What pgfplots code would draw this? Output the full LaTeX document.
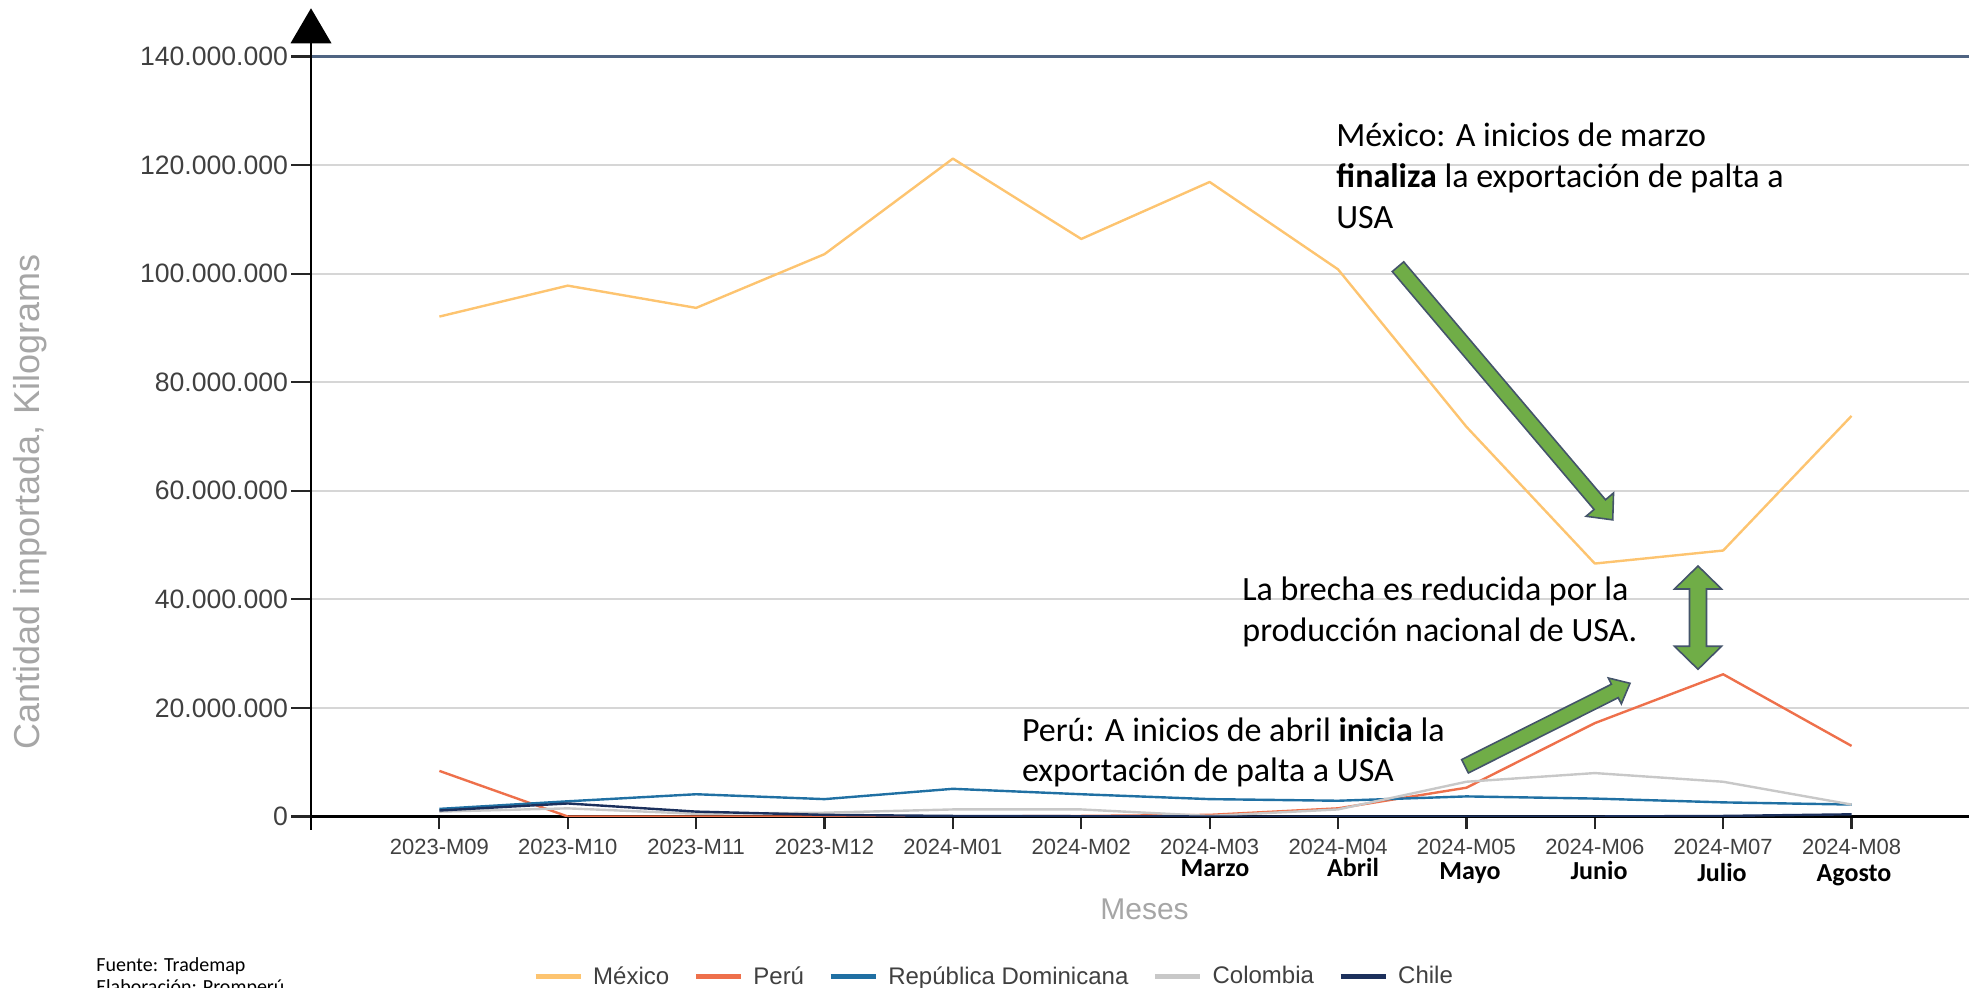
\documentclass[border=0pt]{standalone}
\usepackage{fontspec}
\setmainfont{Liberation Sans}
\newfontfamily\calibri{Carlito}
\usepackage{pgfplots}
\usepackage{pgfplotstable}
\pgfplotsset{compat=1.18}
\definecolor{mex}{RGB}{253,196,112}
\definecolor{per}{RGB}{238,112,75}
\definecolor{rdo}{RGB}{32,112,163}
\definecolor{col}{RGB}{200,200,200}
\definecolor{chi}{RGB}{28,48,92}
\definecolor{tickc}{RGB}{64,64,64}
\definecolor{lab}{RGB}{166,166,166}
\definecolor{gridc}{RGB}{214,214,214}
\definecolor{topl}{RGB}{79,100,130}
\definecolor{arrf}{RGB}{112,173,71}
\definecolor{arrd}{RGB}{68,84,106}

% values in millions of kilograms
\pgfplotstableread{
i  mex   per  rdo  col  chi
0  92.1  8.4  1.4  0.9  1.1
1  97.8  0.0  2.8  1.5  2.4
2  93.7  0.0  4.1  0.5  0.9
3  103.6 0.0  3.2  0.7  0.3
4  121.2 0.0  5.1  1.3  0.1
5  106.4 0.1  4.1  1.3  0.05
6  116.9 0.3  3.2  0.1  0.0
7  100.8 1.5  2.9  1.3  0.0
8  71.8  5.3  3.7  6.4  0.0
9  46.6  17.2 3.3  8.0  0.0
10 49.0  26.2 2.6  6.4  0.1
11 73.8  13.0 2.2  2.2  0.4
}\datatable

\begin{document}
\begin{tikzpicture}
\useasboundingbox (0,0) rectangle (984.5pt,494pt);
\clip (0,0) rectangle (984.5pt,494pt);
\begin{axis}[
  at={(155.5pt,85.75pt)}, anchor=south west, scale only axis,
  width=829pt, height=379.95pt,
  xmin=-1, xmax=11.915, ymin=0, ymax=140,
  axis x line*=bottom, axis y line*=left,
  axis line style={black, line width=1.2pt},
  xtick={0,...,11},
  xticklabels={2023-M09,2023-M10,2023-M11,2023-M12,2024-M01,2024-M02,2024-M03,2024-M04,2024-M05,2024-M06,2024-M07,2024-M08},
  ytick={0,20,...,140},
  yticklabels={0,20.000.000,40.000.000,60.000.000,80.000.000,100.000.000,120.000.000,140.000.000},
  tick align=outside,
  major tick length=8pt,
  xtick style={/pgfplots/major tick length=6.5pt, black!85, line width=1.1pt},
  ytick style={/pgfplots/major tick length=10pt, black!85, line width=1.1pt},
  ymajorgrids, grid style={gridc, line width=0.9pt},
  x tick label style={font=\fontsize{11}{13}\selectfont, text=tickc},
  y tick label style={font=\fontsize{13.3}{15}\selectfont, text=tickc},
  legend columns=5,
  legend style={at={(0.4113,-0.2108)}, anchor=center, draw=none, fill=none,
    font=\fontsize{12}{14}\selectfont, text=tickc,
    nodes={inner sep=0pt, text=tickc},
    /tikz/every odd column/.append style={column sep=5pt},
    /tikz/every even column/.append style={column sep=12pt}},
  legend image code/.code={\draw[#1, line width=2.6pt] (0pt,0pt) -- (22.5pt,0pt);},
  every axis plot/.append style={line join=round, line width=1.2pt},
]
\addplot[mex] table[x=i, y=mex]{\datatable}; \addlegendentry{México}
\addplot[per] table[x=i, y=per]{\datatable}; \addlegendentry{Perú}
\addplot[rdo] table[x=i, y=rdo]{\datatable}; \addlegendentry{República Dominicana}
\addplot[col] table[x=i, y=col]{\datatable}; \addlegendentry{Colombia}
\addplot[chi] table[x=i, y=chi]{\datatable}; \addlegendentry{Chile}
\end{axis}

\begin{scope}[x=0.5pt, y=0.5pt]
  % top frame line and y axis arrow
  \draw[topl, line width=1.3pt] (311,931.4) -- (1969,931.4);
  \draw[black, line width=1.2pt] (311,158) -- (311,946);
  \fill[black] (311,979.7) -- (290.5,944.7) -- (331.5,944.7) -- cycle;
  % axis titles
  \node[rotate=90, text=lab, font=\fontsize{18}{21}\selectfont] at (30,486) {Cantidad importada, Kilograms};
  \node[text=lab, font=\fontsize{15}{18}\selectfont] at (1144.5,79) {Meses};
  % month names
  \begin{scope}[every node/.style={anchor=base, inner sep=0pt, font=\calibri\bfseries\fontsize{13}{15}\selectfont}]
    \node at (1215,111) {Marzo};
    \node at (1353,111) {Abril};
    \node at (1470,108) {Mayo};
    \node at (1599,108) {Junio};
    \node at (1722,106) {Julio};
    \node at (1854,106) {Agosto};
  \end{scope}
  % green arrows
  \begin{scope}[shift={(1398,721.3)}, rotate=-49.7]
    \filldraw[fill=arrf, draw=arrd, line width=0.8pt] (0,-7.5) -- (312,-7.5) -- (312,-18) -- (332,0) -- (312,18) -- (312,7.5) -- (0,7.5) -- cycle;
  \end{scope}
  \begin{scope}[shift={(1465,221.7)}, rotate=26.7]
    \filldraw[fill=arrf, draw=arrd, line width=0.8pt] (0,-7.5) -- (167.7,-7.5) -- (167.7,-14.5) -- (184.7,0) -- (167.7,14.5) -- (167.7,7.5) -- (0,7.5) -- cycle;
  \end{scope}
  \filldraw[fill=arrf, draw=arrd, line width=0.8pt]
    (1689.5,341.7) -- (1674.5,341.7) -- (1698,318.7) -- (1721.5,341.7) -- (1706.5,341.7)
    -- (1706.5,399) -- (1721.5,399) -- (1698,422) -- (1674.5,399) -- (1689.5,399) -- cycle;
  % annotations
  \begin{scope}[every node/.style={anchor=base west, inner sep=0pt, font=\calibri\fontsize{17}{20}\selectfont}]
    \node at (1336,841.3) {México: A inicios de marzo};
    \node at (1336,800) {\textbf{finaliza} la exportación de palta a};
    \node at (1336,759) {USA};
    \node at (1242,387.3) {La brecha es reducida por la};
    \node at (1242,346.3) {producción nacional de USA.};
    \node at (1021.6,246.3) {Perú: A inicios de abril \textbf{inicia} la};
    \node at (1021.6,206.3) {exportación de palta a USA};
  \end{scope}
  % source
  \begin{scope}[every node/.style={anchor=base west, inner sep=0pt, font=\calibri\fontsize{10}{12}\selectfont}]
    \node at (96,16) {Fuente: Trademap};
    \node at (96,-6) {Elaboración: Promperú};
  \end{scope}
\end{scope}
\end{tikzpicture}
\end{document}
